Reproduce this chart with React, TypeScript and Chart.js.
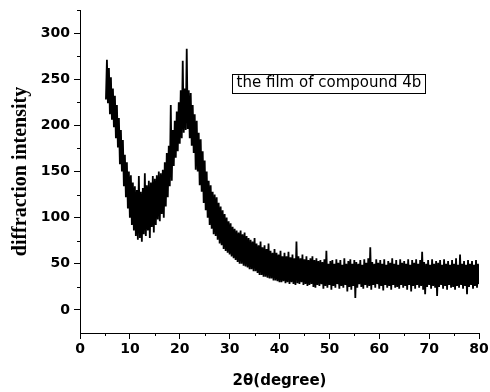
import React, { useEffect, useRef } from "react";
import { Chart, registerables } from "chart.js";

Chart.register(...registerables);

// 2θ grid: first reading at 5.2°, one reading every 0.2°
const THETA_START = 5.2;
const THETA_STEP = 0.2;

// intensity readings, one row per degree (d.2, d.4, d.6, d.8, d+1.0)
const intensity = [
  228, 271, 224, 262, 212, // 5
  252, 206, 240, 198, 232, // 6
  186, 222, 176, 208, 158, // 7
  195, 150, 184, 134, 168, // 8
  122, 160, 110, 150, 100, // 9
  146, 92, 138, 86, 134, // 10
  80, 130, 76, 145, 78, // 11
  128, 74, 132, 82, 148, // 12
  80, 135, 86, 140, 78, // 13
  138, 90, 145, 84, 142, // 14
  92, 146, 98, 150, 96, // 15
  148, 104, 152, 100, 160, // 16
  112, 170, 122, 178, 134, // 17
  222, 140, 195, 156, 205, // 18
  165, 215, 172, 225, 180, // 19
  238, 186, 270, 192, 240, // 20
  195, 283, 196, 238, 186, // 21
  235, 178, 222, 170, 212, // 22
  152, 205, 150, 192, 135, // 23
  185, 128, 172, 116, 162, // 24
  108, 150, 100, 140, 92, // 25
  135, 88, 128, 82, 125, // 26
  80, 122, 76, 116, 72, // 27
  112, 70, 108, 66, 104, // 28
  64, 100, 62, 96, 60, // 29
  94, 58, 90, 56, 88, // 30
  54, 86, 52, 84, 50, // 31
  86, 50, 82, 48, 84, // 32
  47, 80, 46, 78, 44, // 33
  76, 44, 74, 42, 78, // 34
  42, 72, 40, 70, 38, // 35
  74, 38, 68, 36, 70, // 36
  36, 66, 35, 72, 34, // 37
  64, 34, 62, 32, 66, // 38
  32, 62, 31, 60, 30, // 39
  64, 30, 58, 31, 62, // 40
  29, 58, 30, 63, 28, // 41
  57, 30, 60, 28, 56, // 42
  27, 74, 29, 58, 28, // 43
  56, 30, 60, 27, 55, // 44
  28, 58, 26, 54, 27, // 45
  56, 28, 58, 25, 54, // 46
  24, 56, 27, 53, 26, // 47
  54, 28, 52, 23, 55, // 48
  26, 64, 24, 50, 27, // 49
  53, 22, 54, 26, 50, // 50
  24, 55, 28, 51, 23, // 51
  54, 26, 49, 24, 56, // 52
  27, 50, 20, 53, 25, // 53
  55, 22, 50, 26, 54, // 54
  13, 52, 24, 50, 28, // 55
  54, 25, 49, 23, 55, // 56
  27, 51, 24, 56, 26, // 57
  68, 22, 52, 27, 50, // 58
  24, 55, 28, 51, 23, // 59
  54, 26, 50, 21, 55, // 60
  27, 49, 24, 53, 26, // 61
  51, 22, 56, 27, 50, // 62
  24, 54, 25, 49, 23, // 63
  55, 27, 51, 24, 53, // 64
  26, 50, 22, 55, 27, // 65
  49, 20, 54, 26, 51, // 66
  23, 55, 27, 50, 24, // 67
  54, 26, 63, 22, 52, // 68
  17, 50, 25, 54, 27, // 69
  49, 23, 55, 26, 50, // 70
  24, 53, 15, 51, 25, // 71
  54, 27, 49, 23, 55, // 72
  26, 50, 22, 53, 27, // 73
  49, 24, 54, 25, 50, // 74
  22, 56, 26, 49, 24, // 75
  60, 27, 50, 23, 53, // 76
  26, 49, 17, 54, 25, // 77
  50, 27, 53, 23, 49, // 78
  26, 54, 24, 50, 28, // 79
];

const xTicks = [0, 10, 20, 30, 40, 50, 60, 70, 80];
const xMinorTicks = [5, 15, 25, 35, 45, 55, 65, 75];
const yTicks = [0, 50, 100, 150, 200, 250, 300];
const yMinorTicks = [25, 75, 125, 175, 225, 275, 325];

const X_MIN = 0;
const X_MAX = 80;
const Y_MIN = -25;
const Y_MAX = 325;

const xTitle = "2θ(degree)";
const yTitle = "diffraction intensity";
const annotationText = "the film of compound 4b";
const annotationAt = { x: 31.4, y: 245.4 };

const SANS = "'DejaVu Sans', Verdana, sans-serif";
const SERIF = "'Liberation Serif', 'Times New Roman', serif";

const decorPlugin = {
  id: "decor",
  afterDraw(chart: any) {
    const { ctx } = chart;
    const xs = chart.scales.x;
    const ys = chart.scales.y;
    ctx.save();
    ctx.strokeStyle = "#000";
    ctx.lineWidth = 1;
    ctx.beginPath();
    for (const v of xMinorTicks) {
      const px = Math.round(xs.getPixelForValue(v)) + 0.5;
      ctx.moveTo(px, ys.bottom);
      ctx.lineTo(px, ys.bottom + 3);
    }
    for (const v of yMinorTicks) {
      const py = Math.round(ys.getPixelForValue(v)) + 0.5;
      ctx.moveTo(xs.left, py);
      ctx.lineTo(xs.left - 3, py);
    }
    ctx.stroke();

    // annotation label with box
    ctx.font = `15px ${SANS}`;
    ctx.fillStyle = "#000";
    ctx.textBaseline = "middle";
    ctx.textAlign = "left";
    const tx = xs.getPixelForValue(annotationAt.x);
    const ty = ys.getPixelForValue(annotationAt.y);
    const w = ctx.measureText(annotationText).width;
    ctx.fillText(annotationText, tx, ty);
    ctx.strokeRect(Math.round(tx - 5) + 0.5, Math.round(ty - 9.5) + 0.5, Math.round(w + 8), 19);
    ctx.restore();
  },
};

export default function App() {
  const ref = useRef<HTMLCanvasElement | null>(null);

  useEffect(() => {
    const canvas = ref.current;
    if (!canvas) return;
    const points = intensity.map((v, i) => ({
      x: THETA_START + i * THETA_STEP,
      y: v,
    }));
    const chart = new Chart(canvas, {
      type: "line",
      data: {
        datasets: [
          {
            data: points,
            borderColor: "#000",
            borderWidth: 1.8,
            borderJoinStyle: "bevel",
            pointRadius: 0,
            tension: 0,
            fill: false,
          },
        ],
      },
      options: {
        responsive: false,
        animation: false,
        devicePixelRatio: 1,
        layout: { padding: { top: 10, right: 11, left: 0, bottom: 0 } },
        plugins: {
          legend: { display: false },
          tooltip: { enabled: false },
        },
        scales: {
          x: {
            type: "linear",
            min: X_MIN,
            max: X_MAX,
            afterBuildTicks: (s: any) => {
              s.ticks = xTicks.map((v) => ({ value: v }));
            },
            afterFit: (s: any) => {
              s.height = 59;
              s.paddingLeft = 0;
              s.paddingRight = 0;
            },
            border: { display: true, color: "#000", width: 1 },
            grid: {
              drawOnChartArea: false,
              drawTicks: true,
              tickLength: 6,
              tickColor: "#000",
              color: "#000",
            },
            ticks: {
              color: "#000",
              padding: 2,
              maxRotation: 0,
              font: { family: SANS, size: 14, weight: "bold" },
            },
            title: {
              display: true,
              text: xTitle,
              color: "#000",
              font: { family: SANS, size: 15, weight: "bold" },
              padding: { top: 0, bottom: 2 },
            },
          },
          y: {
            type: "linear",
            min: Y_MIN,
            max: Y_MAX,
            afterBuildTicks: (s: any) => {
              s.ticks = yTicks.map((v) => ({ value: v }));
            },
            afterFit: (s: any) => {
              s.width = 80;
              s.paddingTop = 0;
              s.paddingBottom = 0;
            },
            border: { display: true, color: "#000", width: 1 },
            grid: {
              drawOnChartArea: false,
              drawTicks: true,
              tickLength: 6,
              tickColor: "#000",
              color: "#000",
            },
            ticks: {
              color: "#000",
              padding: 4,
              font: { family: SANS, size: 14, weight: "bold" },
            },
            title: {
              display: true,
              text: yTitle,
              color: "#000",
              font: { family: SERIF, size: 20, weight: "bold" },
              padding: { top: 9, bottom: 0 },
            },
          },
        },
      },
      plugins: [decorPlugin],
    });
    return () => chart.destroy();
  }, []);

  return (
    <div style={{ position: "absolute", left: 0, top: 0, width: 490, height: 392, background: "#fff" }}>
      <canvas ref={ref} width={490} height={392} style={{ display: "block", width: 490, height: 392 }} />
    </div>
  );
}
